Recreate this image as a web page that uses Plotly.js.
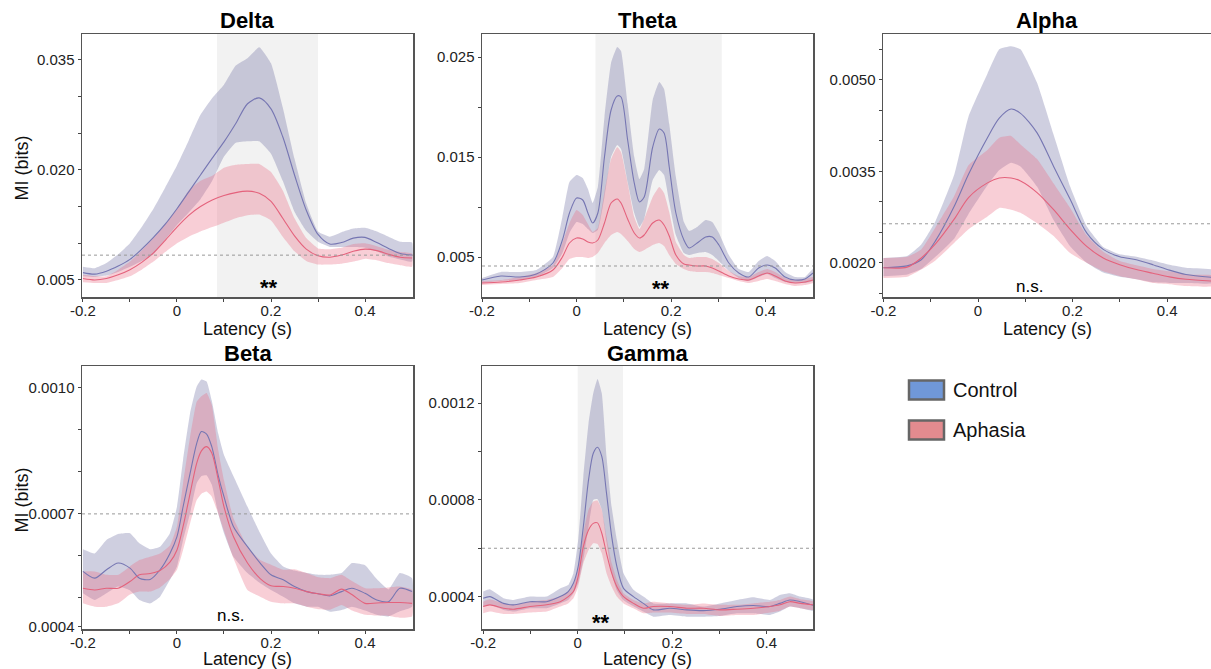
<!DOCTYPE html>
<html><head><meta charset="utf-8">
<script src="https://cdn.plot.ly/plotly-3.0.1.min.js"></script>
<style>html,body{margin:0;padding:0;background:#fff}#chart{width:1211px;height:669px}</style>
</head><body><div id="chart"></div>
<script>
// ---------- DATA (latency in s, MI in bits) ----------
const deltaT = [-0.2,-0.175,-0.15,-0.125,-0.1,-0.075,-0.05,-0.025,0,0.025,0.05,0.075,0.1,0.125,0.15,0.175,0.2,0.225,0.25,0.275,0.3,0.325,0.35,0.375,0.4,0.425,0.45,0.475,0.5];
const deltaCtrlMean = [0.0060,0.0058,0.0062,0.0069,0.0078,0.0092,0.0108,0.0126,0.0147,0.0170,0.0193,0.0216,0.0238,0.0263,0.0290,0.0298,0.0283,0.0245,0.0193,0.0145,0.0112,0.0099,0.0101,0.0107,0.0108,0.0101,0.0093,0.0086,0.0084];
const deltaCtrlHi = [0.0068,0.0066,0.0073,0.0085,0.0100,0.0122,0.0147,0.0176,0.0206,0.0240,0.0275,0.0298,0.0316,0.0342,0.0352,0.0367,0.0345,0.0285,0.0215,0.0154,0.0116,0.0109,0.0115,0.0120,0.0121,0.0116,0.0109,0.0102,0.0101];
const deltaCtrlLo = [0.0055,0.0054,0.0056,0.0061,0.0068,0.0076,0.0085,0.0105,0.0125,0.0142,0.0160,0.0185,0.0218,0.0237,0.0239,0.0239,0.0222,0.0185,0.0143,0.0117,0.0102,0.0095,0.0095,0.0095,0.0094,0.0089,0.0082,0.0078,0.0075];
const deltaAphMean = [0.0052,0.0050,0.0052,0.0057,0.0064,0.0074,0.0087,0.0104,0.0122,0.0138,0.0150,0.0159,0.0165,0.0169,0.0171,0.0168,0.0157,0.0134,0.0110,0.0092,0.0083,0.0081,0.0084,0.0089,0.0092,0.0090,0.0085,0.0081,0.0080];
const deltaAphHi = [0.0057,0.0055,0.0055,0.0064,0.0075,0.0090,0.0107,0.0126,0.0147,0.0172,0.0185,0.0192,0.0203,0.0207,0.0208,0.0208,0.0197,0.0172,0.0134,0.0107,0.0093,0.0092,0.0094,0.0099,0.0100,0.0096,0.0091,0.0088,0.0086];
const deltaAphLo = [0.0047,0.0046,0.0046,0.0050,0.0055,0.0064,0.0075,0.0088,0.0100,0.0109,0.0116,0.0122,0.0128,0.0134,0.0138,0.0139,0.0131,0.0109,0.0089,0.0076,0.0071,0.0071,0.0072,0.0075,0.0079,0.0077,0.0073,0.0070,0.0068];

const thetaT = [-0.2,-0.16,-0.12,-0.085,-0.05,-0.03,-0.015,0,0.013,0.024,0.034,0.045,0.059,0.073,0.086,0.094,0.108,0.122,0.133,0.143,0.161,0.175,0.185,0.196,0.21,0.227,0.238,0.255,0.273,0.287,0.301,0.322,0.343,0.364,0.385,0.403,0.42,0.441,0.462,0.483,0.5];
const thetaCtrlMean = [0.0027,0.0031,0.0030,0.0033,0.0044,0.0067,0.0094,0.0109,0.0107,0.0094,0.0084,0.0094,0.0150,0.0197,0.0211,0.0210,0.0167,0.0124,0.0105,0.0110,0.0160,0.0178,0.0174,0.0140,0.0094,0.0067,0.0059,0.0064,0.0070,0.0070,0.0062,0.0044,0.0034,0.0030,0.0039,0.0042,0.0039,0.0030,0.0027,0.0028,0.0034];
const thetaCtrlHi = [0.0029,0.0035,0.0035,0.0037,0.0050,0.0090,0.0125,0.0132,0.0129,0.0118,0.0104,0.0120,0.0190,0.0244,0.0260,0.0256,0.0203,0.0150,0.0128,0.0138,0.0207,0.0225,0.0218,0.0183,0.0130,0.0085,0.0076,0.0080,0.0087,0.0085,0.0074,0.0052,0.0038,0.0035,0.0046,0.0051,0.0046,0.0035,0.0030,0.0030,0.0038];
const thetaCtrlLo = [0.0024,0.0026,0.0027,0.0030,0.0039,0.0054,0.0074,0.0085,0.0083,0.0078,0.0074,0.0077,0.0110,0.0150,0.0162,0.0158,0.0125,0.0094,0.0080,0.0088,0.0127,0.0137,0.0132,0.0105,0.0072,0.0054,0.0052,0.0054,0.0055,0.0052,0.0046,0.0036,0.0029,0.0026,0.0030,0.0033,0.0029,0.0025,0.0024,0.0024,0.0026];
const thetaAphMean = [0.0024,0.0025,0.0027,0.0030,0.0037,0.0050,0.0064,0.0069,0.0068,0.0065,0.0064,0.0067,0.0084,0.0104,0.0108,0.0104,0.0088,0.0074,0.0069,0.0072,0.0084,0.0087,0.0082,0.0071,0.0052,0.0043,0.0042,0.0041,0.0041,0.0039,0.0036,0.0031,0.0028,0.0027,0.0031,0.0034,0.0031,0.0026,0.0024,0.0025,0.0027];
const thetaAphHi = [0.0026,0.0027,0.0030,0.0034,0.0042,0.0064,0.0084,0.0097,0.0092,0.0083,0.0075,0.0079,0.0115,0.0148,0.0160,0.0155,0.0124,0.0090,0.0078,0.0088,0.0110,0.0120,0.0114,0.0095,0.0065,0.0052,0.0049,0.0050,0.0050,0.0048,0.0044,0.0036,0.0031,0.0030,0.0035,0.0038,0.0035,0.0029,0.0027,0.0028,0.0030];
const thetaAphLo = [0.0022,0.0023,0.0024,0.0027,0.0030,0.0039,0.0048,0.0050,0.0050,0.0049,0.0050,0.0054,0.0064,0.0072,0.0075,0.0073,0.0066,0.0058,0.0055,0.0057,0.0062,0.0064,0.0061,0.0052,0.0043,0.0038,0.0036,0.0035,0.0035,0.0034,0.0032,0.0029,0.0026,0.0024,0.0026,0.0028,0.0026,0.0023,0.0021,0.0022,0.0024];

const alphaT = [-0.2,-0.15,-0.12,-0.09,-0.05,-0.02,0.02,0.045,0.07,0.09,0.125,0.16,0.195,0.23,0.265,0.3,0.335,0.37,0.405,0.44,0.5];
const alphaCtrlMean = [0.00192,0.00195,0.00205,0.00236,0.00293,0.00345,0.00405,0.00437,0.00452,0.00445,0.00413,0.00358,0.00304,0.00249,0.00222,0.00210,0.00205,0.00197,0.00188,0.00181,0.00176];
const alphaCtrlHi = [0.00208,0.00211,0.00230,0.00268,0.00345,0.00440,0.00510,0.00550,0.00555,0.00550,0.00495,0.00410,0.00325,0.00260,0.00226,0.00214,0.00210,0.00204,0.00197,0.00192,0.00188];
const alphaCtrlLo = [0.00178,0.00181,0.00190,0.00210,0.00240,0.00280,0.00327,0.00352,0.00364,0.00358,0.00325,0.00270,0.00227,0.00200,0.00184,0.00177,0.00173,0.00168,0.00167,0.00167,0.00167];
const alphaAphMean = [0.00192,0.00193,0.00208,0.00231,0.00272,0.00307,0.00331,0.00339,0.00339,0.00334,0.00315,0.00287,0.00255,0.00227,0.00208,0.00197,0.00189,0.00183,0.00177,0.00173,0.00170];
const alphaAphHi = [0.00208,0.00210,0.00222,0.00258,0.00310,0.00360,0.00385,0.00405,0.00408,0.00394,0.00370,0.00330,0.00290,0.00245,0.00218,0.00203,0.00196,0.00190,0.00186,0.00181,0.00179];
const alphaAphLo = [0.00175,0.00177,0.00189,0.00204,0.00233,0.00255,0.00276,0.00290,0.00287,0.00282,0.00265,0.00244,0.00216,0.00200,0.00186,0.00178,0.00173,0.00167,0.00165,0.00162,0.00162];

const betaT = [-0.2,-0.175,-0.15,-0.125,-0.1,-0.08,-0.057,-0.036,-0.015,0,0.013,0.028,0.042,0.052,0.063,0.074,0.088,0.1,0.12,0.15,0.177,0.2,0.226,0.25,0.276,0.3,0.326,0.35,0.372,0.4,0.425,0.45,0.474,0.5];
const betaCtrlMean = [0.000563,0.000547,0.000567,0.000583,0.000571,0.000547,0.000544,0.000567,0.000606,0.000646,0.000717,0.000797,0.000868,0.000896,0.000890,0.000860,0.000790,0.000741,0.000670,0.000622,0.000583,0.000555,0.000543,0.000527,0.000515,0.000510,0.000505,0.000515,0.000523,0.000511,0.000495,0.000491,0.000523,0.000515];
const betaCtrlHi = [0.000616,0.000606,0.000638,0.000652,0.000654,0.000630,0.000616,0.000622,0.000654,0.000717,0.000829,0.000940,0.001003,0.001020,0.001015,0.000970,0.000890,0.000840,0.000790,0.000717,0.000654,0.000606,0.000575,0.000565,0.000559,0.000555,0.000555,0.000559,0.000583,0.000578,0.000545,0.000520,0.000559,0.000547];
const betaCtrlLo = [0.000511,0.000495,0.000511,0.000527,0.000518,0.000495,0.000487,0.000503,0.000543,0.000575,0.000638,0.000702,0.000773,0.000790,0.000792,0.000770,0.000700,0.000654,0.000598,0.000559,0.000535,0.000519,0.000503,0.000487,0.000479,0.000479,0.000467,0.000471,0.000479,0.000470,0.000460,0.000456,0.000468,0.000479];
const betaAphMean = [0.000523,0.000519,0.000523,0.000523,0.000539,0.000555,0.000558,0.000565,0.000585,0.000614,0.000670,0.000749,0.000821,0.000850,0.000860,0.000845,0.000780,0.000717,0.000646,0.000583,0.000546,0.000529,0.000527,0.000523,0.000515,0.000510,0.000507,0.000521,0.000508,0.000487,0.000488,0.000489,0.000489,0.000487];
const betaAphHi = [0.000563,0.000563,0.000555,0.000555,0.000575,0.000590,0.000598,0.000606,0.000625,0.000670,0.000773,0.000884,0.000967,0.000980,0.000988,0.000960,0.000850,0.000780,0.000690,0.000622,0.000590,0.000579,0.000567,0.000568,0.000559,0.000549,0.000547,0.000555,0.000540,0.000523,0.000523,0.000525,0.000527,0.000519];
const betaAphLo = [0.000487,0.000479,0.000479,0.000487,0.000508,0.000515,0.000515,0.000525,0.000545,0.000567,0.000614,0.000678,0.000733,0.000748,0.000753,0.000741,0.000700,0.000660,0.000595,0.000519,0.000503,0.000491,0.000487,0.000487,0.000479,0.000473,0.000472,0.000483,0.000470,0.000460,0.000458,0.000457,0.000453,0.000456];

const gammaT = [-0.2,-0.186,-0.157,-0.136,-0.101,-0.066,-0.037,-0.02,-0.009,0.001,0.012,0.023,0.033,0.042,0.051,0.061,0.072,0.083,0.097,0.118,0.139,0.16,0.195,0.231,0.266,0.301,0.337,0.372,0.407,0.428,0.449,0.471,0.5];
const gammaCtrlMean = [0.000393,0.000400,0.000372,0.000366,0.000379,0.000379,0.000400,0.000421,0.000455,0.000524,0.000690,0.000883,0.000993,0.001018,0.000980,0.000828,0.000648,0.000524,0.000434,0.000400,0.000372,0.000345,0.000352,0.000345,0.000342,0.000348,0.000359,0.000363,0.000359,0.000372,0.000386,0.000379,0.000363];
const gammaCtrlHi = [0.000421,0.000430,0.000393,0.000386,0.000400,0.000400,0.000434,0.000448,0.000497,0.000634,0.000897,0.001117,0.001241,0.001300,0.001241,0.000980,0.000770,0.000634,0.000497,0.000428,0.000400,0.000372,0.000372,0.000372,0.000359,0.000372,0.000386,0.000397,0.000386,0.000407,0.000414,0.000400,0.000386];
const gammaCtrlLo = [0.000359,0.000366,0.000345,0.000338,0.000352,0.000352,0.000372,0.000386,0.000414,0.000455,0.000552,0.000690,0.000800,0.000803,0.000760,0.000625,0.000495,0.000425,0.000385,0.000360,0.000338,0.000317,0.000324,0.000317,0.000317,0.000320,0.000331,0.000331,0.000324,0.000338,0.000359,0.000352,0.000342];
const gammaAphMean = [0.000359,0.000366,0.000352,0.000348,0.000359,0.000366,0.000379,0.000400,0.000421,0.000483,0.000607,0.000676,0.000703,0.000705,0.000662,0.000579,0.000497,0.000441,0.000400,0.000372,0.000352,0.000359,0.000359,0.000352,0.000352,0.000345,0.000348,0.000352,0.000359,0.000366,0.000379,0.000372,0.000366];
const gammaAphHi = [0.000379,0.000389,0.000372,0.000366,0.000379,0.000386,0.000400,0.000421,0.000448,0.000524,0.000662,0.000759,0.000793,0.000798,0.000759,0.000648,0.000538,0.000469,0.000414,0.000386,0.000372,0.000379,0.000372,0.000366,0.000372,0.000366,0.000366,0.000372,0.000379,0.000386,0.000400,0.000389,0.000379];
const gammaAphLo = [0.000331,0.000338,0.000328,0.000328,0.000334,0.000338,0.000359,0.000372,0.000393,0.000441,0.000538,0.000593,0.000621,0.000618,0.000579,0.000497,0.000441,0.000400,0.000372,0.000352,0.000331,0.000334,0.000334,0.000328,0.000328,0.000320,0.000324,0.000324,0.000334,0.000342,0.000359,0.000352,0.000345];

const bandNames = ['Delta','Theta','Alpha','Beta','Gamma'];
const groupNames = ['Control','Aphasia'];
const sigLabels = ['**','**','n.s.','n.s.','**'];
const sigWindows = [[0.085,0.30],[0.04,0.307],null,null,[0.0,0.096]];
const chanceLevels = [0.00838,0.0041,0.00264,0.0007,0.0006];

// ---------- STYLE / LAYOUT ----------
const W = 1211, H = 669;
const FONT = 'Liberation Sans, Arial, sans-serif';
const px = x => x / W;
const py = y => 1 - y / H;

const panels = [
  {t:deltaT, cm:deltaCtrlMean, ch:deltaCtrlHi, cl:deltaCtrlLo, am:deltaAphMean, ah:deltaAphHi, al:deltaAphLo,
   box:[82,413,34,297], xr:[-0.202,0.502], yr:[0.00268,0.0385],
   ytv:[0.005,0.020,0.035], ytt:['0.005','0.020','0.035'], ymin:[0.010,0.015,0.025,0.030],
   sig:[0.196,287], ylab:true},
  {t:thetaT, cm:thetaCtrlMean, ch:thetaCtrlHi, cl:thetaCtrlLo, am:thetaAphMean, ah:thetaAphHi, al:thetaAphLo,
   box:[482,813,34,297], xr:[-0.2,0.5], yr:[0.0010,0.0273],
   ytv:[0.005,0.015,0.025], ytt:['0.005','0.015','0.025'], ymin:[0.010,0.020],
   sig:[0.179,288], ylab:false},
  {t:alphaT, cm:alphaCtrlMean, ch:alphaCtrlHi, cl:alphaCtrlLo, am:alphaAphMean, ah:alphaAphHi, al:alphaAphLo,
   box:[883,1211,34,297], xr:[-0.201,0.493], yr:[0.00144,0.00575],
   ytv:[0.0020,0.0035,0.0050], ytt:['0.0020','0.0035','0.0050'], ymin:[0.0015,0.0025,0.0030,0.0040,0.0045,0.0055],
   sig:[0.11,286], ylab:false},
  {t:betaT, cm:betaCtrlMean, ch:betaCtrlHi, cl:betaCtrlLo, am:betaAphMean, ah:betaAphHi, al:betaAphLo,
   box:[82,413,366,629], xr:[-0.202,0.502], yr:[0.000426,0.001052],
   ytv:[0.000431,0.0007,0.0010], ytt:['0.0004','0.0007','0.0010'], ymin:[0.0005,0.0006,0.0008,0.0009],
   sig:[0.113,615], ylab:true},
  {t:gammaT, cm:gammaCtrlMean, ch:gammaCtrlHi, cl:gammaCtrlLo, am:gammaAphMean, ah:gammaAphHi, al:gammaAphLo,
   box:[482,813,366,629], xr:[-0.2025,0.498], yr:[0.000266,0.001354],
   ytv:[0.0004,0.0008,0.0012], ytt:['0.0004','0.0008','0.0012'], ymin:[0.0006,0.0010],
   sig:[0.05,622], ylab:false}
];

const ctrlFill = 'rgba(105,105,160,0.32)';
const aphFill = 'rgba(235,105,130,0.33)';
const ctrlLine = 'rgb(118,118,178)';
const aphLine = 'rgb(228,98,124)';
const frameColor = '#555';

const traces = [];
const layout = {
  width: W, height: H,
  margin: {l:0, r:0, t:0, b:0},
  paper_bgcolor: '#fff', plot_bgcolor: '#fff',
  showlegend: false,
  font: {family: FONT, color: '#111'},
  shapes: [], annotations: []
};

function band(t, hi, lo) {
  return {x: t.concat(t.slice().reverse()), y: hi.concat(lo.slice().reverse())};
}

panels.forEach((p, i) => {
  const n = i === 0 ? '' : String(i + 1);
  const xa = 'x' + n, ya = 'y' + n;
  const cb = band(p.t, p.ch, p.cl);
  const ab = band(p.t, p.ah, p.al);
  traces.push({x: cb.x, y: cb.y, xaxis: xa, yaxis: ya, type: 'scatter', mode: 'lines', fill: 'toself',
    fillcolor: ctrlFill, line: {width: 0, shape: 'spline', smoothing: 0.4}, hoverinfo: 'skip', name: groupNames[0]});
  traces.push({x: ab.x, y: ab.y, xaxis: xa, yaxis: ya, type: 'scatter', mode: 'lines', fill: 'toself',
    fillcolor: aphFill, line: {width: 0, shape: 'spline', smoothing: 0.4}, hoverinfo: 'skip', name: groupNames[1]});
  traces.push({x: p.t, y: p.cm, xaxis: xa, yaxis: ya, type: 'scatter', mode: 'lines',
    line: {color: ctrlLine, width: 1.1, shape: 'spline', smoothing: 0.8}, name: groupNames[0]});
  traces.push({x: p.t, y: p.am, xaxis: xa, yaxis: ya, type: 'scatter', mode: 'lines',
    line: {color: aphLine, width: 1.1, shape: 'spline', smoothing: 0.8}, name: groupNames[1]});

  const [l, r, top, bot] = p.box;
  const axCommon = {
    showline: true, linecolor: frameColor, linewidth: 1.5, mirror: true,
    showgrid: false, zeroline: false, ticks: 'outside', ticklen: 3, tickwidth: 1, tickcolor: '#444',
    tickfont: {family: FONT, size: 15, color: '#222'}, fixedrange: true
  };
  layout['xaxis' + n] = Object.assign({}, axCommon, {
    domain: [px(l), Math.min(1, px(r))], range: p.xr, anchor: ya, ticklabelstandoff: -4,
    tickmode: 'array', tickvals: [-0.2, 0, 0.2, 0.4], ticktext: ['-0.2', '0', '0.2', '0.4'],
    minor: {tickmode: 'array', tickvals: [-0.1, 0.1, 0.3], ticks: 'outside', ticklen: 3, tickcolor: '#444'}
  });
  layout['yaxis' + n] = Object.assign({}, axCommon, {
    domain: [py(bot), py(top)], range: p.yr, anchor: xa,
    tickmode: 'array', tickvals: p.ytv, ticktext: p.ytt,
    minor: {tickmode: 'array', tickvals: p.ymin, ticks: 'outside', ticklen: 3, tickcolor: '#444'}
  });

  // significance window
  if (sigWindows[i]) {
    layout.shapes.push({type: 'rect', xref: xa, yref: ya + ' domain', x0: sigWindows[i][0], x1: sigWindows[i][1],
      y0: 0, y1: 1, fillcolor: '#f2f2f2', line: {width: 0}, layer: 'below'});
  }
  // chance level
  layout.shapes.push({type: 'line', xref: xa + ' domain', yref: ya, x0: 0, x1: 1,
    y0: chanceLevels[i], y1: chanceLevels[i], line: {color: '#999', width: 1, dash: 'dot'}, layer: 'above'});

  const cxFull = (l + r) / 2;
  // panel title
  layout.annotations.push({xref: 'paper', yref: 'paper', x: px(Math.min(cxFull, 1211)), y: py(top - 13),
    text: '<b>' + bandNames[i] + '</b>', showarrow: false, xanchor: 'center', yanchor: 'middle',
    font: {family: FONT, size: 22, color: '#000'}});
  // x title
  layout.annotations.push({xref: 'paper', yref: 'paper', x: px(cxFull > 1150 ? 1047 : cxFull), y: py(Math.min(bot + 32, 659)),
    text: 'Latency (s)', showarrow: false, xanchor: 'center', yanchor: 'middle',
    font: {family: FONT, size: 18, color: '#111'}});
  // y title
  if (p.ylab) {
    layout.annotations.push({xref: 'paper', yref: 'paper', x: px(21), y: py((top + bot) / 2 + 2),
      text: 'MI (bits)', showarrow: false, textangle: -90, xanchor: 'center', yanchor: 'middle',
      font: {family: FONT, size: 18, color: '#111'}});
  }
  // significance label
  const isStar = sigLabels[i] === '**';
  layout.annotations.push({xref: xa, yref: 'paper', x: p.sig[0], y: py(p.sig[1]),
    text: isStar ? '<b>**</b>' : sigLabels[i], showarrow: false, xanchor: 'center', yanchor: 'middle',
    font: {family: FONT, size: isStar ? 22 : 17, color: '#000'}});
});

// legend (drawn as boxes + labels)
const legendFill = ['#7098d8', '#e38b8f'];
const legendY = [390, 430];
groupNames.forEach((g, k) => {
  layout.shapes.push({type: 'rect', xref: 'paper', yref: 'paper',
    x0: px(909), x1: px(944), y0: py(legendY[k] + 9.5), y1: py(legendY[k] - 9.5),
    fillcolor: legendFill[k], line: {color: '#666', width: 2.5}});
  layout.annotations.push({xref: 'paper', yref: 'paper', x: px(951), y: py(legendY[k]),
    text: g, showarrow: false, xanchor: 'left', yanchor: 'middle',
    font: {family: FONT, size: 20, color: '#111'}});
});

Plotly.newPlot('chart', traces, layout, {staticPlot: true, displayModeBar: false});
</script>
</body></html>
